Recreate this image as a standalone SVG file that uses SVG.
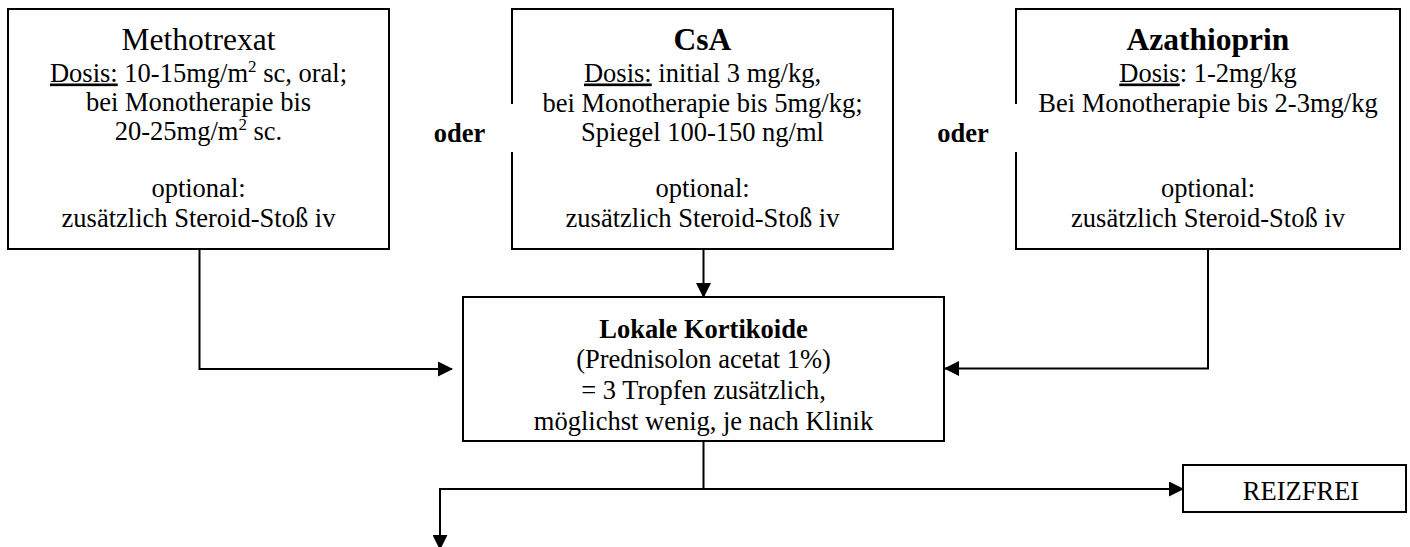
<svg xmlns="http://www.w3.org/2000/svg" width="1410" height="547" viewBox="0 0 1410 547">
  <style>
    .box { fill: #ffffff; stroke: #000000; stroke-width: 2; }
    .t { font-family: "Liberation Serif", "Times New Roman", serif; font-size: 26.5px; fill: #000000; text-anchor: middle; }
    .title { font-size: 31.5px; }
    .b { font-weight: bold; }
    .u { text-decoration: underline; }
    .conn { fill: none; stroke: #000000; stroke-width: 2; }
  </style>
  <defs>
    <marker id="arrow" viewBox="0 0 15 15" refX="14" refY="7.5" markerWidth="15" markerHeight="15" markerUnits="userSpaceOnUse" orient="auto">
      <path d="M0,0 L15,7.5 L0,15 z" fill="#000000"/>
    </marker>
  </defs>
  <rect x="0" y="0" width="1410" height="547" fill="#ffffff"/>

  <g id="connectors">
    <path class="conn" d="M199.5,249 V369 H452" marker-end="url(#arrow)"/>
    <path class="conn" d="M703.5,249 V297" marker-end="url(#arrow)"/>
    <path class="conn" d="M1208,249 V368.5 H945" marker-end="url(#arrow)"/>
    <path class="conn" d="M703.5,441 V489 H1183" marker-end="url(#arrow)"/>
    <path class="conn" d="M704,489 H440 V549" marker-end="url(#arrow)"/>
  </g>

  <g id="methotrexat">
    <rect class="box" x="8" y="9" width="381" height="240"/>
    <text class="t title" x="198.5" y="50">Methotrexat</text>
    <text class="t" x="198.5" y="81.5"><tspan class="u">Dosis:</tspan> 10-15mg/m<tspan dy="-10" font-size="17">2</tspan><tspan dy="10"> sc, oral;</tspan></text>
    <text class="t" x="198.5" y="111">bei Monotherapie bis</text>
    <text class="t" x="198.5" y="140">20-25mg/m<tspan dy="-10" font-size="17">2</tspan><tspan dy="10"> sc.</tspan></text>
    <text class="t" x="198.5" y="197">optional:</text>
    <text class="t" x="198.5" y="227">zusätzlich Steroid-Stoß iv</text>
  </g>

  <g id="csa">
    <rect class="box" x="512" y="9" width="381" height="240"/>
    <text class="t title b" x="702.5" y="49.5">CsA</text>
    <text class="t" x="702.5" y="81.5"><tspan class="u">Dosis:</tspan> initial 3 mg/kg,</text>
    <text class="t" x="702.5" y="111.5">bei Monotherapie bis 5mg/kg;</text>
    <text class="t" x="702.5" y="140.5">Spiegel 100-150 ng/ml</text>
    <text class="t" x="702.5" y="197">optional:</text>
    <text class="t" x="702.5" y="227">zusätzlich Steroid-Stoß iv</text>
  </g>

  <g id="azathioprin">
    <rect class="box" x="1016" y="9" width="384" height="240"/>
    <text class="t title b" x="1208" y="49.5">Azathioprin</text>
    <text class="t" x="1208" y="81.5"><tspan class="u">Dosis</tspan>: 1-2mg/kg</text>
    <text class="t" x="1208" y="111.5">Bei Monotherapie bis 2-3mg/kg</text>
    <text class="t" x="1208" y="197">optional:</text>
    <text class="t" x="1208" y="227">zusätzlich Steroid-Stoß iv</text>
  </g>

  <g id="oder1">
    <rect x="412" y="104" width="101" height="48" fill="#ffffff"/>
    <text class="t b" x="459.5" y="142" font-size="28px">oder</text>
  </g>

  <g id="oder2">
    <rect x="916" y="104" width="101" height="48" fill="#ffffff"/>
    <text class="t b" x="963" y="142" font-size="28px">oder</text>
  </g>

  <g id="lokale-kortikoide">
    <rect class="box" x="463" y="297" width="481" height="144"/>
    <text class="t b" x="703.5" y="338" font-size="28.5px">Lokale Kortikoide</text>
    <text class="t" x="703.5" y="368">(Prednisolon acetat 1%)</text>
    <text class="t" x="703.5" y="399">= 3 Tropfen zusätzlich,</text>
    <text class="t" x="703.5" y="430">möglichst wenig, je nach Klinik</text>
  </g>

  <g id="reizfrei">
    <rect class="box" x="1183" y="465" width="223" height="47"/>
    <text class="t" x="1301" y="500">REIZFREI</text>
  </g>
</svg>
